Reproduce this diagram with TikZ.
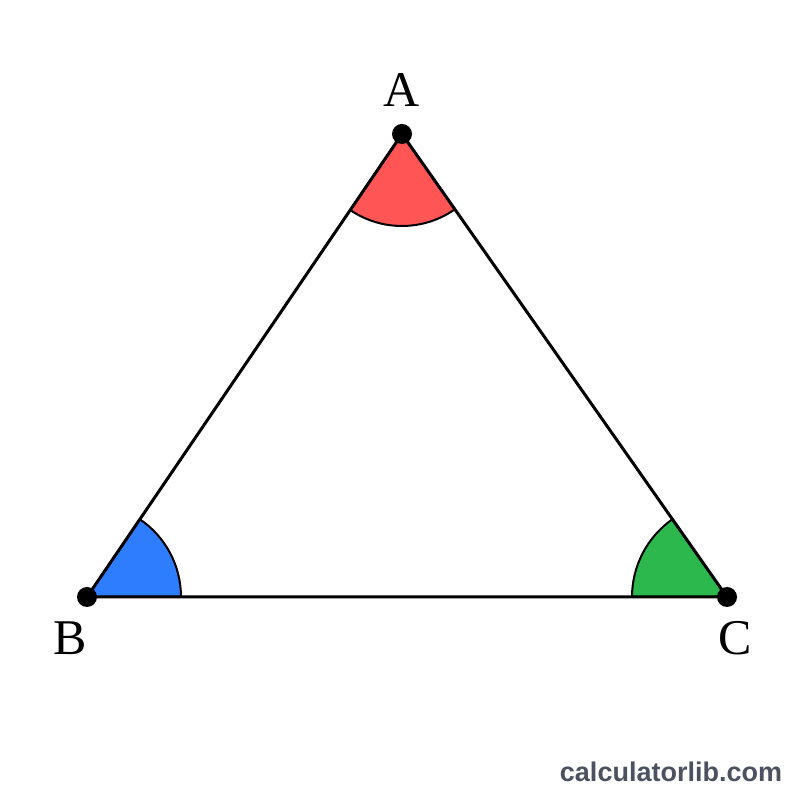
\documentclass[tikz,border=0pt]{standalone}
\usepackage{fontspec}
\setmainfont{Liberation Serif}
\newfontfamily\wmfont{Liberation Sans}
\definecolor{angA}{HTML}{FF5555}
\definecolor{angB}{HTML}{2F7DFF}
\definecolor{angC}{HTML}{2DB84D}
\definecolor{wm}{HTML}{4A5160}
\begin{document}
\begin{tikzpicture}[x=1pt,y=1pt,
  sector/.style={draw=black,line width=2pt,line join=round},
  side/.style={draw=black,line width=3pt,line join=round},
  vertex/.style={circle,fill=black,inner sep=0pt,minimum size=20pt},
  vlabel/.style={font=\fontsize{50}{50}\selectfont,inner sep=0pt}]
\useasboundingbox[fill=white] (0,0) rectangle (800,800);
\coordinate (A) at (402,666);
\coordinate (B) at (87,203);
\coordinate (C) at (727,203);
\path[sector,fill=angA] (A) -- ++(235.8:92) arc[start angle=235.8,end angle=305.1,radius=92] -- cycle;
\path[sector,fill=angB] (B) -- ++(0:94) arc[start angle=0,end angle=55.8,radius=94] -- cycle;
\path[sector,fill=angC] (C) -- ++(125.1:95) arc[start angle=125.1,end angle=180,radius=95] -- cycle;
\draw[side] (A) -- (B) -- (C) -- cycle;
\node[vertex] (dA) at (A) {};
\node[vertex] (dB) at (B) {};
\node[vertex] (dC) at (C) {};
\node[vlabel] (lA) at (402,710) {A};
\node[vlabel] (lB) at (70,162) {B};
\node[vlabel] (lC) at (735,162) {C};
\node[font=\wmfont\bfseries\fontsize{27}{27}\selectfont,text=wm,inner sep=0pt] (wm) at (671,28) {calculatorlib.com};
\end{tikzpicture}
\end{document}
